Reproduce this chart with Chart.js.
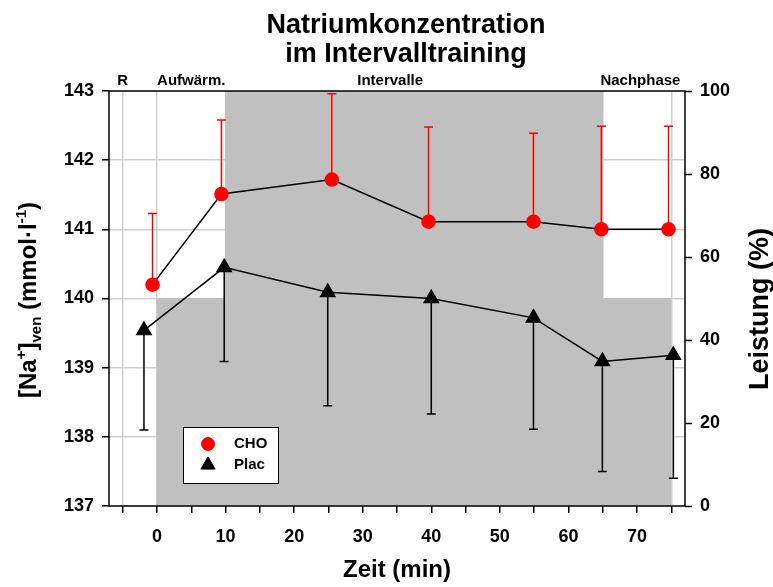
<!DOCTYPE html>
<html>
<head>
<meta charset="utf-8">
<script src="https://cdn.jsdelivr.net/npm/chart.js@4.4.1/dist/chart.umd.min.js"></script>
<style>
  html, body { margin: 0; padding: 0; background: #fff; }
  #wrap { width: 773px; height: 587px; }
</style>
</head>
<body>
<div id="wrap"><canvas id="chart" width="773" height="587"></canvas></div>
<script>
// Natrium im venösen Blut, Mittelwert ± SD
const choTime = [-0.65, 9.4, 25.5, 39.6, 54.9, 64.8, 74.6];
const choMean = [140.2, 141.51, 141.72, 141.11, 141.11, 141.0, 141.0];
const choSd = [1.03, 1.07, 1.24, 1.37, 1.28, 1.49, 1.49];

const placTime = [-1.9, 9.8, 24.9, 40.0, 54.9, 64.95, 75.3];
const placMean = [139.54, 140.45, 140.09, 140.0, 139.72, 139.09, 139.18];
const placSd = [1.44, 1.36, 1.64, 1.67, 1.61, 1.59, 1.78];

// Belastungsprofil, Leistung in %
const powerTime = [-5, 0, 10, 65, 75];
const powerLevel = [0, 50, 100, 50, 50];

// Achsen
const xTicks = [-5, 0, 5, 10, 15, 20, 25, 30, 35, 40, 45, 50, 55, 60, 65, 70, 75];
const naTicks = [137, 138, 139, 140, 141, 142, 143];
const powerTicks = [0, 20, 40, 60, 80, 100];

// Phasen
const phaseBounds = [-5, 0, 10, 65, 75];
const phaseLabels = ['R', 'Aufwärm.', 'Intervalle', 'Nachphase'];
const phaseCenters = [-5, 5, 34, 70.5];

const FONT = '"Liberation Sans", Arial, Helvetica, sans-serif';

const toPoints = (xs, ys) => xs.map((x, i) => ({ x: x, y: ys[i] }));

// Fehlerbalken: CHO nach oben, Plac nach unten
const errorBars = {
    id: 'errorBars',
    afterDatasetDraw(chart, args) {
        if (args.index !== 2) return;
        const ctx = chart.ctx;
        const yScale = chart.scales.y;
        const sets = [
            { index: 0, sd: choSd, mean: choMean, dir: 1, color: '#ff0000' },
            { index: 1, sd: placSd, mean: placMean, dir: -1, color: '#000000' }
        ];
        ctx.save();
        ctx.lineWidth = 1.5;
        sets.forEach(s => {
            const meta = chart.getDatasetMeta(s.index);
            ctx.strokeStyle = s.color;
            meta.data.forEach((pt, i) => {
                const yEnd = yScale.getPixelForValue(s.mean[i] + s.dir * s.sd[i]);
                ctx.beginPath();
                ctx.moveTo(pt.x, pt.y);
                ctx.lineTo(pt.x, yEnd);
                ctx.moveTo(pt.x - 4.5, yEnd);
                ctx.lineTo(pt.x + 4.5, yEnd);
                ctx.stroke();
            });
        });
        ctx.restore();
    }
};

// Rahmen, Beschriftungen und Legende
const decorations = {
    id: 'decorations',
    afterDatasetsDraw(chart) {
        const ctx = chart.ctx;
        const a = chart.chartArea;
        ctx.save();
        ctx.strokeStyle = '#000';
        ctx.lineWidth = 1.5;
        ctx.strokeRect(a.left, a.top, a.right - a.left, a.bottom - a.top);
        ctx.restore();
    },
    afterDraw(chart) {
        const ctx = chart.ctx;
        const a = chart.chartArea;
        const xs = chart.scales.x;
        ctx.save();
        ctx.fillStyle = '#000';

        // Titel
        ctx.textAlign = 'center';
        ctx.textBaseline = 'alphabetic';
        ctx.font = 'bold 27px ' + FONT;
        ctx.fillText('Natriumkonzentration', 406, 33);
        ctx.fillText('im Intervalltraining', 406, 62);

        // Phasen
        ctx.font = 'bold 15px ' + FONT;
        phaseLabels.forEach((t, i) => {
            ctx.fillText(t, xs.getPixelForValue(phaseCenters[i]), 85);
        });

        // x-Achsentitel
        ctx.font = 'bold 24px ' + FONT;
        ctx.fillText('Zeit (min)', (a.left + a.right) / 2, 577);

        // rechter Achsentitel
        ctx.save();
        ctx.font = 'bold 27px ' + FONT;
        ctx.translate(768, 309);
        ctx.rotate(-Math.PI / 2);
        ctx.textBaseline = 'alphabetic';
        ctx.fillText('Leistung (%)', 0, 0);
        ctx.restore();

        // linker Achsentitel mit Hoch- und Tiefstellung
        const big = 'bold 24px ' + FONT;
        const small = 'bold 15px ' + FONT;
        const parts = [
            { t: '[Na', f: big, dy: 0 },
            { t: '+', f: small, dy: -10 },
            { t: ']', f: big, dy: 0 },
            { t: 'ven', f: small, dy: 5 },
            { t: ' (mmol\u00b7l', f: big, dy: 0 },
            { t: '-1', f: small, dy: -10 },
            { t: ')', f: big, dy: 0 }
        ];
        let total = 0;
        parts.forEach(p => { ctx.font = p.f; p.w = ctx.measureText(p.t).width; total += p.w; });
        ctx.save();
        ctx.translate(36, 300);
        ctx.rotate(-Math.PI / 2);
        ctx.textAlign = 'left';
        let cx = -total / 2;
        parts.forEach(p => {
            ctx.font = p.f;
            ctx.fillText(p.t, cx, p.dy);
            cx += p.w;
        });
        ctx.restore();

        // Legende
        const lx = a.left + 74, ly = a.top + 336, lw = 95, lh = 56;
        ctx.fillStyle = '#fff';
        ctx.fillRect(lx, ly, lw, lh);
        ctx.strokeStyle = '#000';
        ctx.lineWidth = 1;
        ctx.strokeRect(lx + 0.5, ly + 0.5, lw, lh);
        const items = [
            { label: 'CHO', ds: chart.data.datasets[0], y: ly + 17 },
            { label: 'Plac', ds: chart.data.datasets[1], y: ly + 38 }
        ];
        ctx.font = 'bold 15px ' + FONT;
        ctx.textAlign = 'left';
        ctx.textBaseline = 'middle';
        items.forEach(it => {
            ctx.fillStyle = it.ds.pointBackgroundColor;
            ctx.strokeStyle = it.ds.pointBorderColor;
            Chart.helpers.drawPoint(ctx, {
                pointStyle: it.ds.pointStyle,
                radius: it.ds.pointRadius,
                borderWidth: 1,
                rotation: 0
            }, lx + 25, it.y);
            ctx.fillStyle = '#000';
            ctx.fillText(it.label, lx + 51, it.y);
        });
        ctx.restore();
    }
};

const tickFont = { family: FONT, size: 18, weight: 'bold' };

new Chart(document.getElementById('chart'), {
    type: 'scatter',
    data: {
        datasets: [
            {
                label: 'CHO',
                data: toPoints(choTime, choMean),
                showLine: true,
                borderColor: '#000',
                borderWidth: 1.5,
                pointStyle: 'circle',
                pointRadius: 6.5,
                pointBackgroundColor: '#ff0000',
                pointBorderColor: '#ff0000',
                yAxisID: 'y',
                order: 1
            },
            {
                label: 'Plac',
                data: toPoints(placTime, placMean),
                showLine: true,
                borderColor: '#000',
                borderWidth: 1.5,
                pointStyle: 'triangle',
                pointRadius: 8.2,
                pointBackgroundColor: '#000',
                pointBorderColor: '#000',
                yAxisID: 'y',
                order: 2
            },
            {
                label: 'Leistung',
                data: toPoints(powerTime, powerLevel),
                showLine: true,
                stepped: 'before',
                fill: 'start',
                backgroundColor: '#c0c0c0',
                borderColor: '#c0c0c0',
                borderWidth: 1,
                pointRadius: 0,
                yAxisID: 'y2',
                order: 3
            }
        ]
    },
    options: {
        responsive: false,
        animation: false,
        events: [],
        layout: { padding: { top: 91, left: 0, right: 0, bottom: 0 } },
        plugins: {
            legend: { display: false },
            title: { display: false },
            tooltip: { enabled: false }
        },
        scales: {
            x: {
                type: 'linear',
                min: -7,
                max: 77,
                afterBuildTicks: s => { s.ticks = xTicks.map(v => ({ value: v })); },
                afterFit: s => { s.height = 81; },
                border: { display: false },
                grid: {
                    color: c => (c.tick && phaseBounds.includes(c.tick.value)) ? '#d0d0d0' : 'rgba(0,0,0,0)',
                    lineWidth: 1.5,
                    tickColor: '#000',
                    tickWidth: 1.5,
                    tickLength: 7
                },
                ticks: {
                    font: tickFont,
                    color: '#000',
                    padding: 13,
                    maxRotation: 0,
                    autoSkip: false,
                    callback: v => (v >= 0 && v % 10 === 0) ? String(v) : ''
                }
            },
            y: {
                position: 'left',
                min: 137,
                max: 143,
                afterBuildTicks: s => { s.ticks = naTicks.map(v => ({ value: v })); },
                afterFit: s => { s.width = 109; },
                border: { display: false },
                grid: {
                    color: c => (c.tick && (c.tick.value === 137 || c.tick.value === 143)) ? 'rgba(0,0,0,0)' : '#d0d0d0',
                    lineWidth: 1.5,
                    tickColor: '#000',
                    tickWidth: 1.5,
                    tickLength: 7
                },
                ticks: { font: tickFont, color: '#000', padding: 8 }
            },
            y2: {
                position: 'right',
                min: 0,
                max: 100,
                afterBuildTicks: s => { s.ticks = powerTicks.map(v => ({ value: v })); },
                afterFit: s => { s.width = 88; },
                border: { display: false },
                grid: {
                    drawOnChartArea: false,
                    tickColor: '#000',
                    tickWidth: 1.5,
                    tickLength: 7
                },
                ticks: { font: tickFont, color: '#000', padding: 8 }
            }
        }
    },
    plugins: [errorBars, decorations]
});
</script>
</body>
</html>
